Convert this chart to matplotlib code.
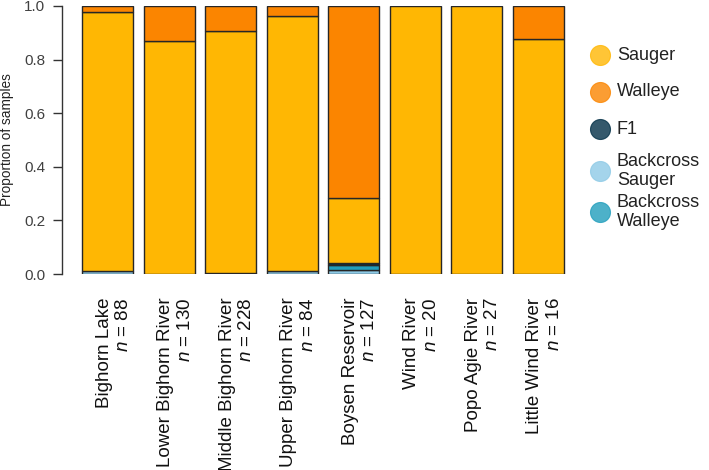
import numpy as np
import matplotlib
matplotlib.use("Agg")
import matplotlib.pyplot as plt
from matplotlib.transforms import ScaledTranslation

plt.rcParams['font.family'] = ['Liberation Sans', 'DejaVu Sans']
plt.rcParams['mathtext.fontset'] = 'custom'
plt.rcParams['mathtext.rm'] = 'Liberation Sans'
plt.rcParams['mathtext.it'] = 'Liberation Sans:italic'

# ---- data ----
sites = ["Bighorn Lake", "Lower Bighorn River", "Middle Bighorn River",
         "Upper Bighorn River", "Boysen Reservoir", "Wind River",
         "Popo Agie River", "Little Wind River"]
n_samples = [88, 130, 228, 84, 127, 20, 27, 16]

backcross_sauger = [0.011, 0.0, 0.0, 0.012, 0.016, 0.0, 0.0, 0.0]
backcross_walleye = [0.0, 0.0, 0.0, 0.0, 0.016, 0.0, 0.0, 0.0]
f1 = [0.0, 0.0, 0.004, 0.0, 0.008, 0.0, 0.0, 0.0]
sauger = [0.966, 0.869, 0.904, 0.952, 0.243, 1.0, 1.0, 0.875]
walleye = [0.023, 0.131, 0.092, 0.036, 0.717, 0.0, 0.0, 0.125]

classes = ["Backcross Sauger", "Backcross Walleye", "F1", "Sauger", "Walleye"]
class_values = [backcross_sauger, backcross_walleye, f1, sauger, walleye]
colors = {"Sauger": "#FFB703", "Walleye": "#FB8500", "F1": "#023047",
          "Backcross Sauger": "#8ECAE6", "Backcross Walleye": "#219EBC"}
legend_order = ["Sauger", "Walleye", "F1", "Backcross\nSauger", "Backcross\nWalleye"]

# ---- figure ----
W, H = 709, 470
fig = plt.figure(figsize=(W / 100, H / 100), dpi=100)
ax = fig.add_axes([62 / W, (H - 274) / H, (575 - 62) / W, 268 / H])

x = np.arange(len(sites))
bottom = np.zeros(len(sites))
for name, vals in zip(classes, class_values):
    vals = np.asarray(vals, dtype=float)
    mask = vals > 0
    ax.bar(x[mask], vals[mask], bottom=bottom[mask], width=0.83,
           color=colors[name], edgecolor="#262626", linewidth=1.0, zorder=2)
    bottom = bottom + vals

ax.set_xlim(-0.74, 7.6)
ax.set_ylim(0, 1)
for s in ["top", "right", "bottom"]:
    ax.spines[s].set_visible(False)
ax.spines["left"].set_bounds(0, 1)
ax.spines["left"].set_color("#333333")
ax.spines["left"].set_linewidth(1.0)
ax.set_yticks([0, 0.2, 0.4, 0.6, 0.8, 1.0])
ax.set_yticklabels(["0.0", "0.2", "0.4", "0.6", "0.8", "1.0"])
ax.tick_params(axis="y", length=6.5, width=1.0, color="#333333",
               labelsize=11, labelcolor="#404040", pad=5.5)
ax.set_ylabel("Proportion of samples", fontsize=9.8, color="#222222")
ax.yaxis.set_label_coords((14.5 - 62) / 513, 0.5)

labels = [f"{s}\n$n$ = {n}" for s, n in zip(sites, n_samples)]
ax.set_xticks(x)
ax.set_xticklabels(labels, rotation=90, va="top", ha="center",
                   multialignment="right", fontsize=13.5, color="#111111")
ax.tick_params(axis="x", length=0, pad=17)
offset = ScaledTranslation(6.5 / 100, 0, fig.dpi_scale_trans)
for lab in ax.get_xticklabels():
    lab.set_transform(lab.get_transform() + offset)

# ---- legend (manual, R-style) ----
lax = fig.add_axes([0, 0, 1, 1], zorder=5)
lax.set_xlim(0, W)
lax.set_ylim(H, 0)
lax.axis("off")
leg_y = [55, 92, 129, 171, 212]
for lbl, yy in zip(legend_order, leg_y):
    key = lbl.replace("\n", " ")
    lax.scatter([600], [yy], s=207, color=colors[key], alpha=0.8,
                edgecolors=colors[key], linewidths=0.8)
    lax.text(617, yy, lbl, va="center", ha="left", fontsize=13,
             color="#222222", linespacing=1.15)

fig.savefig("out.png", dpi=100)
